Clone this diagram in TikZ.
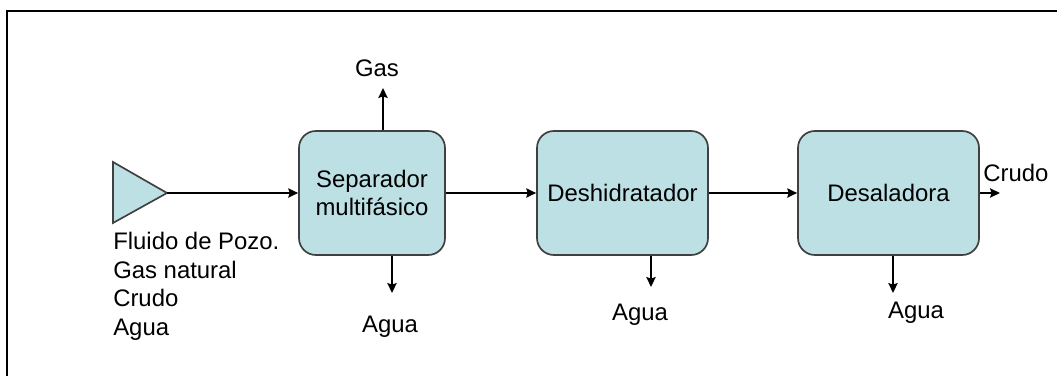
\documentclass[tikz,border=0pt]{standalone}
\usepackage{fontspec}
\setmainfont{Liberation Sans}
\usetikzlibrary{positioning,arrows.meta}
\definecolor{caja}{RGB}{188,224,227}
\definecolor{borde}{RGB}{64,64,64}
\tikzset{
  equipo/.style={draw=borde, fill=caja, line width=1.2pt, rounded corners=12pt, align=center, minimum height=3.1cm},
  flujo/.style={->, line width=1.6pt},
}
\begin{document}
\begin{tikzpicture}[>={Stealth[length=7pt, width=6.5pt, inset=1pt]}, font=\fontsize{17}{20.5}\selectfont]
\useasboundingbox (0,0) rectangle (26.425,9.4);
\draw[line width=1.4pt] (0.175,0) -- (0.175,9.125) -- (26.425,9.125);
% entrada del pozo
\draw[draw=borde, fill=caja, line width=1.2pt] (2.825,5.35) -- (4.175,4.575) -- (2.825,3.825) -- cycle;
\coordinate (pozo) at (4.175,4.575);
\node[anchor=north west, inner sep=0, align=left] (lpozo) at (2.825,3.61) {Fluido de Pozo.\\Gas natural\\Crudo\\Agua};
% equipos
\node[equipo, minimum width=3.65cm] (sep) at (9.3,4.575) {Separador\\multifásico};
\node[equipo, minimum width=4.275cm] (desh) at (15.5625,4.575) {Deshidratador};
\node[equipo, minimum width=4.525cm] (desal) at (22.2125,4.575) {Desaladora};
% salidas
\coordinate (gas) at (9.575,7.2);
\coordinate (agua1) at (9.8,2.075);
\coordinate (agua2) at (16.275,2.225);
\coordinate (agua3) at (22.325,2.075);
\coordinate (crudo) at (25.0,4.575);
\draw[flujo] (pozo) -- (sep);
\draw[flujo] (sep) -- (desh);
\draw[flujo] (desh) -- (desal);
\draw[flujo] (desal) -- (crudo);
\draw[flujo] (sep.north -| gas) -- (gas);
\draw[flujo] (sep.south -| agua1) -- (agua1);
\draw[flujo] (desh.south -| agua2) -- (agua2);
\draw[flujo] (desal.south -| agua3) -- (agua3);
\node (lgas) at (9.425,7.7) {Gas};
\node (lagua1) at (9.75,1.225) {Agua};
\node (lagua2) at (16.0,1.525) {Agua};
\node (lagua3) at (22.9,1.575) {Agua};
\node[anchor=west, inner sep=0] (lcrudo) at (24.575,5.075) {Crudo};
\end{tikzpicture}
\end{document}
